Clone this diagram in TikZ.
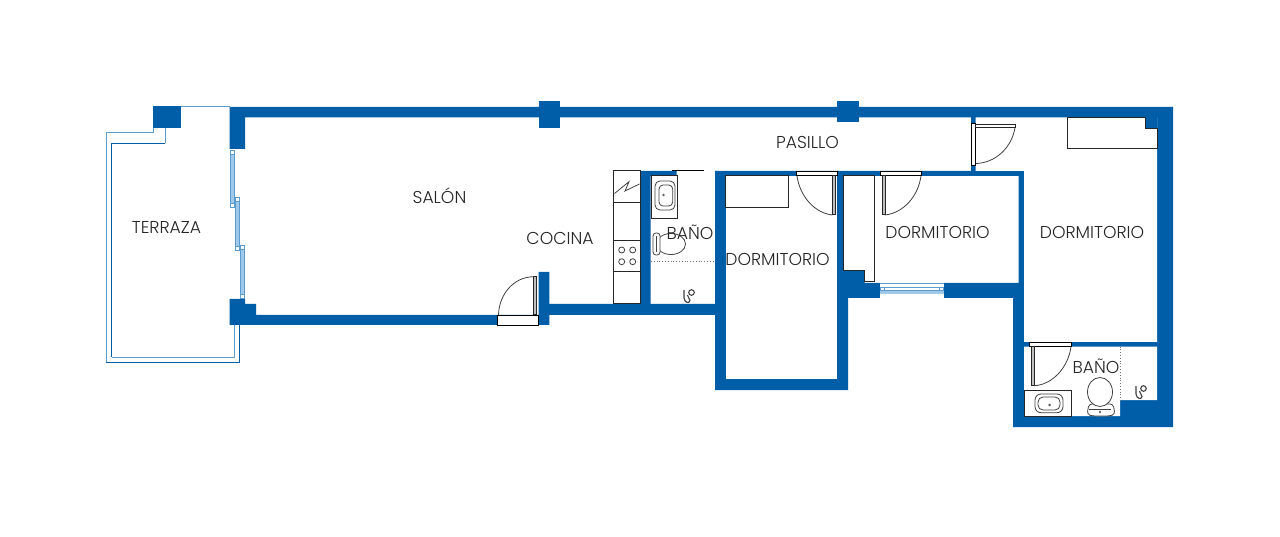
\documentclass[tikz,border=0pt]{standalone}
\usepackage{fontspec}
\setmainfont{Poppins}[UprightFont=* Light]
\definecolor{wallblue}{RGB}{0,93,168}
\definecolor{glassblue}{RGB}{160,200,232}
\definecolor{edgeblue}{RGB}{90,155,208}
\tikzset{
  wall/.style={fill=wallblue,draw=none},
  fixture/.style={draw=black!85,line width=1pt,fill=white},
  thin fixture/.style={draw=black!75,line width=.8pt},
  dooredge/.style={draw=black,line width=.9pt,fill=white},
  swing/.style={draw=black!75,line width=.8pt},
  glass/.style={draw=edgeblue,line width=.6pt,fill=glassblue},
  frame/.style={draw=edgeblue,line width=.6pt,fill=white},
  room/.style={font=\fontsize{17.2pt}{19pt}\selectfont,text=black!85,inner sep=0pt}
}
\begin{document}
\begin{tikzpicture}[x=1pt,y=-1pt]
\useasboundingbox (0,0) rectangle (1280,537);
% terrace outline
\draw[edgeblue,line width=.9pt] (234,325) -- (234,357) -- (111.5,357);
\draw[wallblue,line width=.9pt] (111.5,357) -- (111.5,143.3) -- (165,143.3);
\draw[edgeblue,line width=.9pt] (165,143.3) -- (165,128);
\draw[edgeblue,line width=.9pt] (153.5,128) -- (153.5,132.7) -- (106.3,132.7) -- (106.3,362.3);
\draw[wallblue,line width=.9pt] (106.3,362.3) -- (239,362.3) -- (239,325);
\draw[edgeblue,line width=.9pt] (153.5,106) -- (229.5,106);
% walls
\fill[wall] (153.3,105.7) rectangle (181.3,127.7);
\fill[wall] (229.5,107) -- (1173,107) -- (1173,427) -- (1013,427) -- (1013,298) -- (944,298)
  -- (944,283) -- (1018.7,283) -- (1018.7,176) -- (843,176) -- (843,271) -- (864.5,271)
  -- (864.5,283) -- (880,283) -- (880,298) -- (848,298) -- (848,390) -- (715,390)
  -- (715,315) -- (549.3,315) -- (549.3,325) -- (229.5,325) -- (229.5,299) -- (245,299)
  -- (245,304) -- (256,304) -- (256,315) -- (538.5,315) -- (538.5,272) -- (549.3,272)
  -- (549.3,304) -- (640,304) -- (640,171) -- (676.7,171) -- (676.7,176) -- (650.7,176)
  -- (650.7,304) -- (715,304) -- (715,171) -- (971,171) -- (971,117.5) -- (245,117.5)
  -- (245,149) -- (229.5,149) -- cycle;
\fill[wall] (725.7,171) rectangle (1024,176);
\fill[white] (725.7,176) rectangle (837.3,379);
\fill[wall] (975.7,117.5) rectangle (971,171);
\fill[white] (975.7,117.5) -- (1157,117.5) -- (1157,342) -- (1024,342) -- (1024,171) -- (975.7,171) -- cycle;
\fill[wall] (1024,342) rectangle (1157,346.7);
\fill[white] (1024,346.7) -- (1157,346.7) -- (1157,400) -- (1120,400) -- (1120,416) -- (1024,416) -- cycle;
\fill[wall] (538.7,101.3) rectangle (560,128);
\fill[wall] (837.3,101) rectangle (858.7,122.3);
\fill[wall] (1145.7,117.5) rectangle (1157,128.3);
% windows
\foreach \wx/\wa/\wb in {230/150/207,235/197.7/250,240.3/245.7/298}{
  \draw[glass] (\wx,\wa) rectangle ++(4.3,\wb-\wa);
  \draw[frame] (\wx,\wa) rectangle ++(4.3,4);
  \draw[frame] (\wx,\wb-4) rectangle ++(4.3,4);
}
\fill[white] (880,283) rectangle (944,298);
\fill[glassblue] (880,290.7) rectangle (944,294);
\draw[edgeblue,line width=.8pt] (880,283.7) -- (944,283.7);
\draw[edgeblue,line width=.6pt] (883,287) rectangle (941,290.7);
\draw[frame] (880.5,287) rectangle ++(3.6,3.7);
\draw[frame] (939.5,287) rectangle ++(3.6,3.7);
% doors
\foreach \dx in {796,880}{
  \draw[dooredge] (\dx,171.3) rectangle ++(41.7,4.2);
}
\draw[dooredge] (497,315) rectangle (538.5,325);
\draw[dooredge] (971,123) rectangle (975.7,165);
\draw[dooredge] (1029.5,342) rectangle (1071.7,346.7);
\draw[fixture,fill=black!25] (533.3,276.7) rectangle (536,315);
\draw[swing] (533.3,276.7) .. controls (514,277) and (499,294) .. (498.5,315);
\draw[fixture,fill=black!25] (832.3,175.5) rectangle (835,215);
\draw[swing] (797,176) .. controls (800,197) and (815,213) .. (832.3,215);
\draw[fixture,fill=black!25] (882.3,175.5) rectangle (885,215);
\draw[swing] (921,176) .. controls (918,197) and (903,213) .. (885,215);
\draw[fixture] (975.7,125) rectangle (1015,127.5);
\draw[swing] (1015,127.5) .. controls (1012,147) and (996,163) .. (975.7,163.5);
\draw[fixture,fill=black!25] (1031.7,346.7) rectangle (1034,385.7);
\draw[swing] (1071,347) .. controls (1068,368) and (1052,385) .. (1034,385.7);
\draw[black,line width=.9pt] (672,170) -- (704,170);
% cupboards
\draw[fixture] (725.7,176) rectangle (788.7,207.7);
\draw[fixture] (843.3,176) -- (874,176) -- (874,282) -- (864.5,282) -- (864.5,271) -- (843.3,271) -- cycle;
\draw[fixture,fill=none] (1067,117.5) -- (1145.7,117.5) -- (1145.7,128.3) -- (1157,128.3) -- (1157,148.3) -- (1067,148.3) -- cycle;
% kitchen
\draw[fixture] (613.7,171) rectangle (640,303.3);
\foreach \ky in {202.3,240.3,271.7}{
  \draw[fixture] (613.7,\ky) -- (640,\ky);
}
\draw[thin fixture] (614.5,193.5) -- (629,181.7) -- (625,191) -- (639.5,184);
\foreach \bx in {621.7,632.7}{
  \foreach \by in {250,261.7}{
    \draw[thin fixture] (\bx,\by) circle[radius=3];
  }
}
% bath one
\draw[fixture] (651,176) rectangle (677,218.3);
\draw[thin fixture,rounded corners=5pt] (655,181) rectangle (675,210);
\draw[thin fixture,rounded corners=4pt] (659,185) rectangle (672.7,206);
\fill[black!60] (663.5,195) circle[radius=1.4];
\draw[thin fixture,fill=white] (671,244) ellipse[x radius=14.5,y radius=10.5];
\draw[thin fixture,rounded corners=3pt,fill=white] (653,233) rectangle (660,255);
\draw[thin fixture] (656,236) -- (656,252);
\draw[black!55,line width=.8pt,dotted] (651,261.3) -- (715,261.3);
% bath two
\draw[black!55,line width=.8pt,dotted] (1120,346.7) -- (1120,400);
\draw[fixture] (1024.3,390) rectangle (1071.7,416);
\draw[thin fixture,rounded corners=6pt] (1035,394) rectangle (1063,412.7);
\draw[thin fixture,rounded corners=5pt] (1038,397) rectangle (1060,410);
\fill[black!60] (1049.6,405) circle[radius=1.4];
\draw[thin fixture,fill=white,rounded corners=3pt] (1087,414) -- (1089,404) -- (1113,404) -- (1115,414) -- (1110,416) -- (1092,416) -- cycle;
\draw[thin fixture,fill=white] (1100,392) ellipse[x radius=12.5,y radius=14.5];
\draw[thin fixture] (1089,409) -- (1111,409);
\fill[black!60] (1100,412) circle[radius=1.4];
% shower heads
\foreach \sx/\sy in {688/296,1140/392}{
  \draw[thin fixture,line width=1.1pt] (\sx+3.5,\sy-3.5) circle[radius=2.8];
  \draw[thin fixture,line width=1.1pt] (\sx-4,\sy-6) -- (\sx-4,\sy+2) .. controls (\sx-3.5,\sy+7.5) and (\sx+2,\sy+7.5) .. (\sx+2,\sy+4.5) .. controls (\sx+2,\sy+2) and (\sx-0.5,\sy+2) .. (\sx-0.5,\sy-1);
}
% labels
\node[room] (terraza) at (166.5,227.5) {TERRAZA};
\node[room] (salon) at (439.5,195.5) {SALÓN};
\node[room] (cocina) at (560,238.5) {COCINA};
\node[room] (bano1) at (690,232.5) {BAÑO};
\node[room] (pasillo) at (807.5,142.5) {PASILLO};
\node[room] (dorm1) at (777.5,259.5) {DORMITORIO};
\node[room] (dorm2) at (937.5,232.5) {DORMITORIO};
\node[room] (dorm3) at (1092,232.5) {DORMITORIO};
\node[room] (bano2) at (1096,366.5) {BAÑO};
\end{tikzpicture}
\end{document}
